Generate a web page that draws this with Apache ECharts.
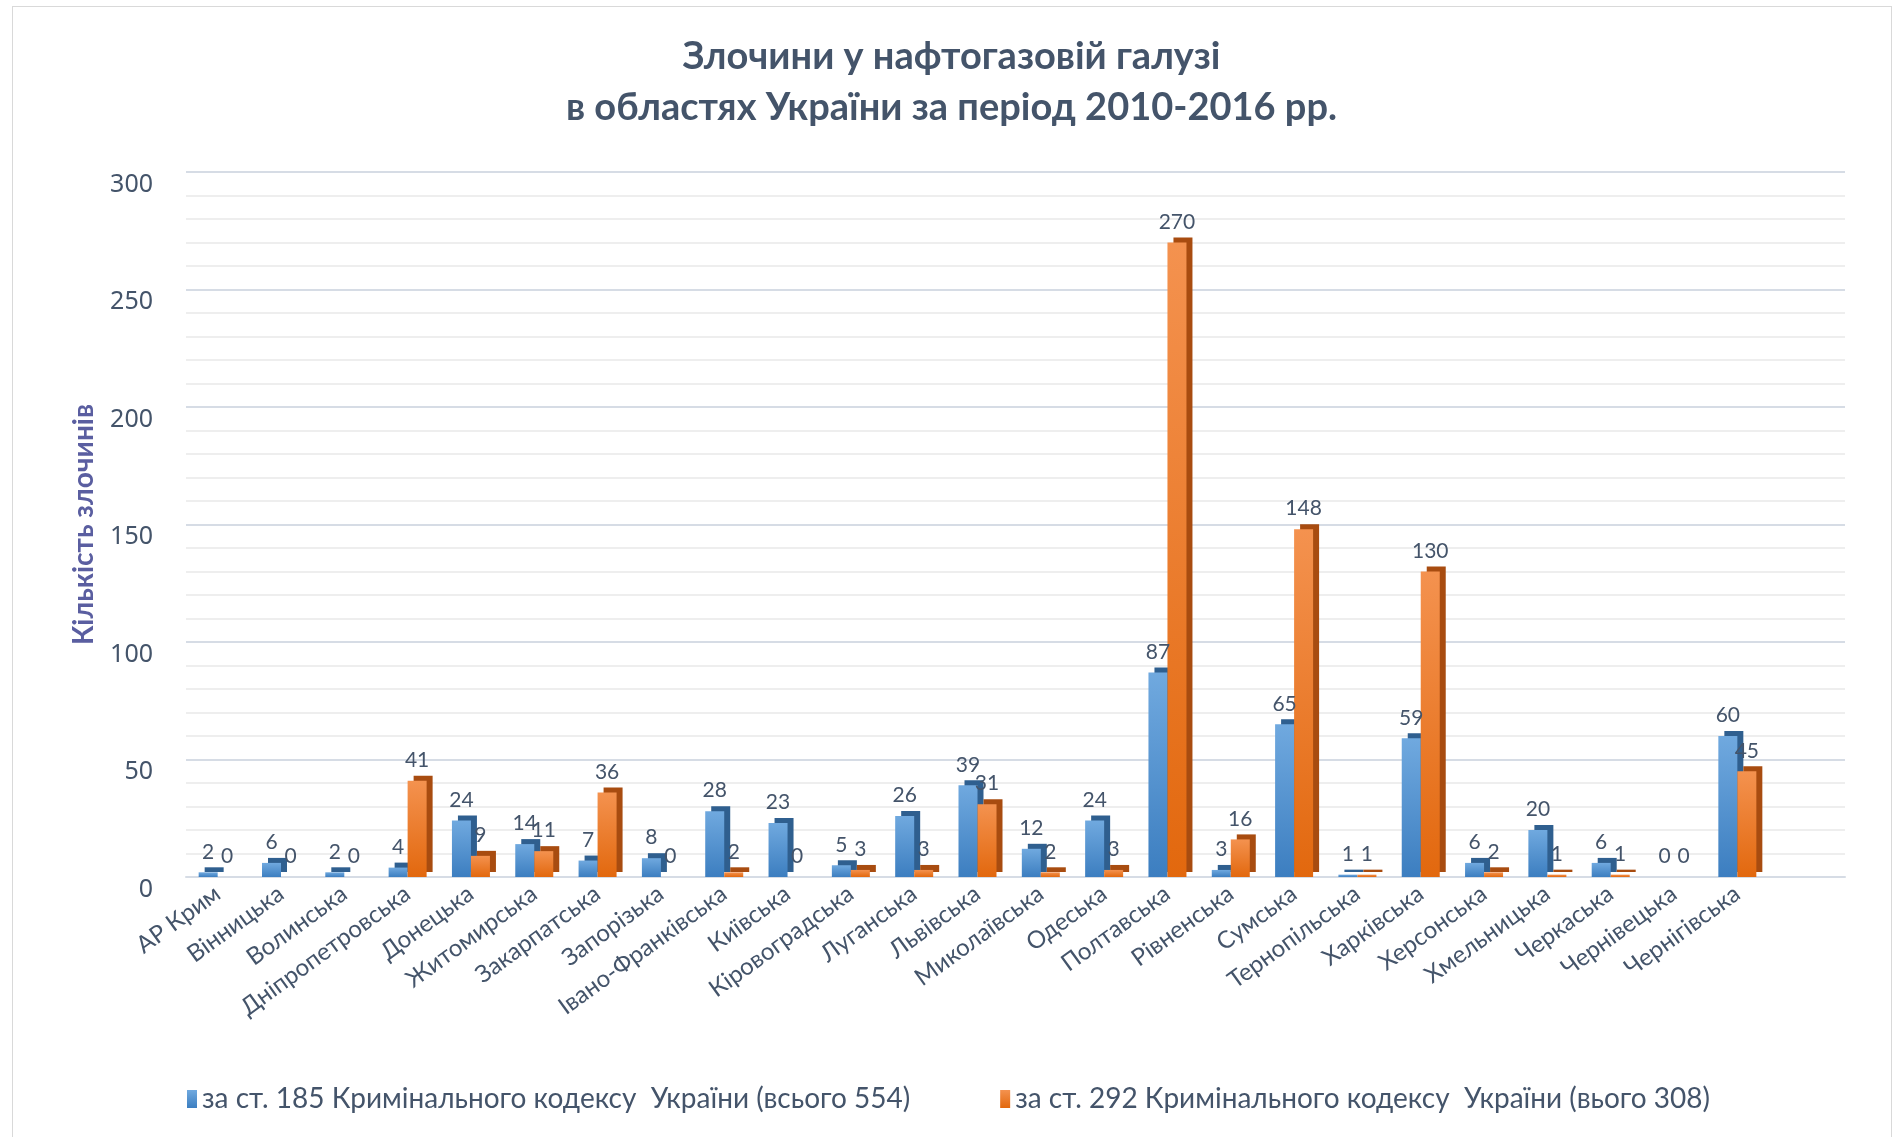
<!DOCTYPE html>
<html>
<head>
<meta charset="utf-8">
<title>Злочини у нафтогазовій галузі</title>
<script src="https://cdn.jsdelivr.net/npm/echarts@6/dist/echarts.min.js"></script>
<style>
	body { margin: 0; background: #fff; }
	#frame {
		position: absolute; left: 12px; top: 6px; width: 1880px; height: 1140px;
		border: 1px solid #d9d9d9; box-sizing: border-box;
	}
	#chart { position: absolute; left: 0; top: 0; width: 1903px; height: 1137px; }
</style>
</head>
<body>
<div id="frame"></div>
<div id="chart"></div>
<script>
	// області
	var regions = ['АР Крим', 'Вінницька', 'Волинська', 'Дніпропетровська', 'Донецька', 'Житомирська',
		'Закарпатська', 'Запорізька', 'Івано-Франківська', 'Київська', 'Кіровоградська', 'Луганська',
		'Львівська', 'Миколаївська', 'Одеська', 'Полтавська', 'Рівненська', 'Сумська', 'Тернопільська',
		'Харківська', 'Херсонська', 'Хмельницька', 'Черкаська', 'Чернівецька', 'Чернігівська'];
	// за ст. 185
	var art185 = [2, 6, 2, 4, 24, 14, 7, 8, 28, 23, 5, 26, 39, 12, 24, 87, 3, 65, 1, 59, 6, 20, 6, 0, 60];
	// за ст. 292
	var art292 = [0, 0, 0, 41, 9, 11, 36, 0, 2, 0, 3, 3, 31, 2, 3, 270, 16, 148, 1, 130, 2, 1, 1, 0, 45];
	var seriesNames = ['за ст. 185 Кримінального кодексу  України (всього 554)',
		'за ст. 292 Кримінального кодексу  України (вього 308)'];
	var yTicks = [0, 50, 100, 150, 200, 250, 300];

	var textColor = '#44546a';
	var font = 'Lato, "Open Sans", sans-serif';

	var myChart = echarts.init(document.getElementById('chart'));

	function barStyle(top, bottom, side) {
		return {
			color: new echarts.graphic.LinearGradient(0, 0, 0, 1, [
				{ offset: 0, color: top },
				{ offset: 1, color: bottom }
			]),
			shadowColor: side,
			shadowBlur: 0,
			shadowOffsetX: 6,
			shadowOffsetY: -5
		};
	}

	var labelStyle = {
		show: true,
		position: 'top',
		distance: 10,
		color: textColor,
		fontSize: 21,
		fontFamily: font
	};

	var option = {
		animation: false,
		title: {
			text: 'Злочини у нафтогазовій галузі\nв областях України за період 2010-2016 рр.',
			left: 'center',
			top: 26,
			textStyle: {
				color: textColor,
				fontSize: 38,
				fontWeight: 'bold',
				fontFamily: font,
				lineHeight: 51
			}
		},
		legend: {
			left: 182,
			top: 1080,
			itemGap: 90,
			itemWidth: 10,
			itemHeight: 18,
			icon: 'rect',
			data: seriesNames,
			textStyle: { color: textColor, fontSize: 28, fontFamily: font }
		},
		grid: [
			{ left: 186, right: 134, top: 172, bottom: 260 },
			// wider grid just for the gridlines (they run past the last bar, as in the original)
			{ left: 186, right: 58, top: 172, bottom: 260 }
		],
		xAxis: [
			{
				type: 'category',
				gridIndex: 0,
				data: regions,
				axisLine: { show: false },
				axisTick: { show: false },
				axisLabel: {
					interval: 0,
					rotate: 36,
					margin: 14,
					color: textColor,
					fontSize: 24,
					fontFamily: font
				}
			},
			{
				type: 'value',
				gridIndex: 1,
				min: 0,
				max: 1,
				axisLine: { lineStyle: { color: '#d6dce5', width: 2 } },
				axisTick: { show: false },
				axisLabel: { show: false },
				splitLine: { show: false }
			}
		],
		yAxis: [
			{
				type: 'value',
				gridIndex: 0,
				min: 0,
				max: 300,
				interval: 10,
				name: 'Кількість злочинів',
				nameLocation: 'middle',
				nameGap: 88,
				nameTextStyle: { color: '#5a5ea0', fontSize: 28, fontWeight: 'bold', fontFamily: font },
				axisLine: { show: false },
				axisTick: { show: false },
				axisLabel: {
					margin: 33,
					verticalAlign: 'top',
					color: textColor,
					fontSize: 25,
					fontFamily: '"Noto Sans", sans-serif',
					formatter: function (v) { return yTicks.indexOf(v) >= 0 ? v : ''; }
				},
				splitLine: { show: false }
			},
			{
				type: 'value',
				gridIndex: 1,
				min: 0,
				max: 300,
				interval: 10,
				axisLine: { show: false },
				axisTick: { show: false },
				axisLabel: { show: false },
				splitLine: {
					lineStyle: { color: ['#d6dce5', '#eeeeee', '#eeeeee', '#eeeeee', '#eeeeee'], width: 2 }
				}
			}
		],
		series: [
			{
				name: seriesNames[0],
				type: 'bar',
				data: art185,
				barWidth: 19,
				barGap: '0%',
				z: 3,
				itemStyle: barStyle('#70a9df', '#3c7ec0', '#2f5f8f'),
				label: labelStyle
			},
			{
				name: seriesNames[1],
				type: 'bar',
				data: art292,
				barWidth: 19,
				barGap: '0%',
				z: 3,
				itemStyle: barStyle('#f4924f', '#e2680e', '#a84c10'),
				label: labelStyle
			}
		],
		color: ['#5b9bd5', '#ed7d31']
	};
	myChart.setOption(option);
</script>
</body>
</html>
